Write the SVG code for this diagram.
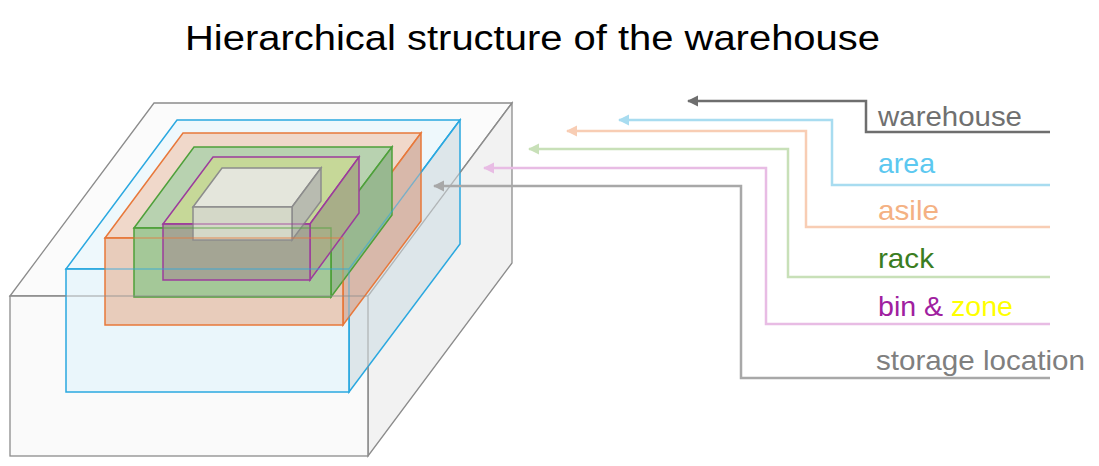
<svg xmlns="http://www.w3.org/2000/svg" width="1099" height="466" viewBox="0 0 1099 466">
<style>
.t{font-family:"Liberation Sans",Arial,sans-serif;font-size:28px}
.c{fill:none;stroke-width:2.5}
.o{fill:none;stroke-width:1.3;stroke-opacity:0.55}
</style>
<defs>
<marker id="m" viewBox="0 0 10 10" refX="9" refY="5" markerWidth="4.5" markerHeight="4.5" orient="auto-start-reverse"><path d="M0,0L10,5L0,10z" fill="context-stroke"/></marker>
</defs>
<rect width="1099" height="466" fill="#fff"/>
<text x="185" y="50" textLength="695" lengthAdjust="spacingAndGlyphs" font-family="Liberation Sans,Arial,sans-serif" font-size="35" fill="#000">Hierarchical structure of the warehouse</text>
<g id="warehouse" stroke="#8c8c8c" stroke-width="1.3">
<path d="M10,296L154,103L512,103L368,296z" fill="#fbfbfb"/>
<path d="M368,296L512,103L512,263L368,456z" fill="#f2f2f2"/>
<rect x="10" y="296" width="358" height="160" fill="#fafafa"/>
</g>
<g id="area" stroke="#2aa8e0" stroke-width="1.5">
<path d="M66,269L177,120L460,120L349,269z" fill="#eef8fc"/>
<path d="M349,269L460,120L460,244L349,392z" fill="#dde6ea"/>
<rect x="66" y="269" width="283" height="123" fill="#eaf6fb"/>
</g>
<g id="asile" stroke="#e8783a" stroke-width="1.5">
<path d="M105,238L183,133L421,133L343,238z" fill="#f0d8ca"/>
<path d="M343,238L421,133L421,221L343,325z" fill="#d8b8aa"/>
<rect x="105" y="238" width="238" height="87" fill="#e8ccbb"/>
</g>
<g id="rack" stroke="#4ea03a" stroke-width="1.5">
<path d="M134,228L194,147L392,147L331,228z" fill="#b8d2b0"/>
<path d="M331,228L392,147L392,215L331,297z" fill="#98b890"/>
<rect x="134" y="228" width="197" height="69" fill="#a4c898"/>
</g>
<g id="bin" stroke="#9c3c9c" stroke-width="1.5">
<path d="M163,224L213,157L359,157L310,224z" fill="#c6d898"/>
<path d="M310,224L359,157L359,213L310,280z" fill="#a8ae88"/>
<rect x="163" y="224" width="147" height="56" fill="#a4a594"/>
</g>
<g id="storage" stroke="#8c8c8c" stroke-width="1.5">
<path d="M193,207L222,168L321,168L292,207z" fill="#e4e6dc"/>
<path d="M292,207L321,168L321,201L292,240z" fill="#b8bbb0"/>
<rect x="193" y="207" width="99" height="33" fill="#d4d8c8"/>
</g>
<g id="overlay">
<path class="o" stroke="#9c3c9c" d="M163,224H310"/>
<path class="o" stroke="#4ea03a" d="M134,228H331V297"/>
<path class="o" stroke="#e8783a" d="M105,238H343V325"/>
<path class="o" stroke="#2aa8e0" d="M66,269H349V392M349,269L460,120"/>
<path class="o" stroke="#8c8c8c" d="M10,296H368V456M368,296L512,103"/>
</g>
<g id="connectors">
<path class="c" stroke="#6e6e6e" d="M1050,132H866V101H688" marker-end="url(#m)"/>
<path class="c" stroke="#a8dcf0" d="M1050,185H832V120H619" marker-end="url(#m)"/>
<path class="c" stroke="#f8cdb4" d="M1050,227H806V131H567" marker-end="url(#m)"/>
<path class="c" stroke="#c8e0b8" d="M1050,277H788V149H529" marker-end="url(#m)"/>
<path class="c" stroke="#e8bce4" d="M1050,324H766V168H484" marker-end="url(#m)"/>
<path class="c" stroke="#a8a8a8" d="M1050,378H741V186H434" marker-end="url(#m)"/>
</g>
<g id="labels">
<text class="t" x="878" y="126" textLength="144" lengthAdjust="spacingAndGlyphs" fill="#707070">warehouse</text>
<text class="t" x="878" y="173" textLength="57" lengthAdjust="spacingAndGlyphs" fill="#5cc8f0">area</text>
<text class="t" x="878" y="220" textLength="61" lengthAdjust="spacingAndGlyphs" fill="#f4b183">asile</text>
<text class="t" x="878" y="268" textLength="56" lengthAdjust="spacingAndGlyphs" fill="#3a7d22">rack</text>
<text class="t" x="878" y="316" textLength="135" lengthAdjust="spacingAndGlyphs" fill="#a020a0">bin &amp; <tspan fill="#ffff00">zone</tspan></text>
<text class="t" x="876" y="370" textLength="209" lengthAdjust="spacingAndGlyphs" fill="#7f7f7f">storage location</text>
</g>
</svg>
